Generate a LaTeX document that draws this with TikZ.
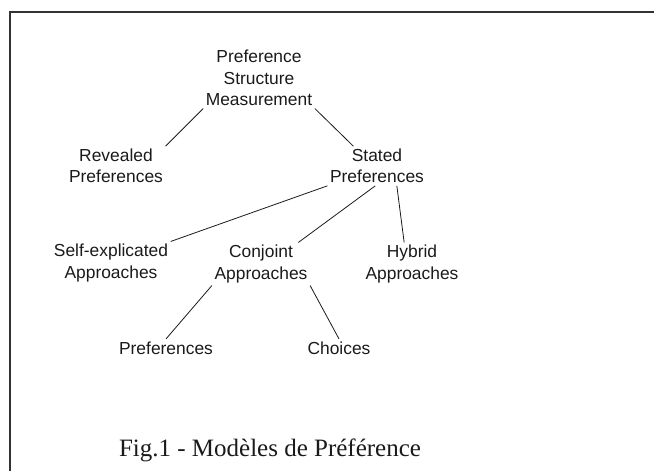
\documentclass[tikz,border=0pt]{standalone}
\usepackage{fontspec}
\setmainfont{Liberation Serif}
\setsansfont{Liberation Sans}
\usetikzlibrary{positioning}
\definecolor{FrameGray}{HTML}{333333}
\definecolor{InkBlack}{HTML}{1A1A1A}

\begin{document}
\begin{tikzpicture}[x=1pt, y=-1pt,
    term/.style={align=center, inner sep=2.5pt, text=InkBlack,
        font=\sffamily\fontsize{17.4}{21.5}\selectfont},
    link/.style={InkBlack, line width=0.8pt}]
    \useasboundingbox (0,0) rectangle (654,471);

    % Frame (open at right and bottom)
    \draw[FrameGray, line width=1.5pt] (10,471) -- (10,12) -- (654,12);

    % Tree of terms
    \node[term] (psm) at (259,78) {Preference\\Structure\\Measurement};
    \node[term] (revealed) at (116,166) {Revealed\\Preferences};
    \node[term] (stated) at (377,166) {Stated\\Preferences};
    \node[term] (selfexp) at (111,263) {Self-explicated\\Approaches};
    \node[term] (conjoint) at (261,264) {Conjoint\\Approaches};
    \node[term] (hybrid) at (412,264) {Hybrid\\Approaches};
    \node[term] (prefs) at (166,348) {Preferences};
    \node[term] (choices) at (339,348) {Choices};

    % Connectors
    \draw[link] (psm.south west) -- (revealed.north east);
    \draw[link] (psm.south east) -- (stated.140);
    \draw[link] (stated.south west) -- (selfexp.north east);
    \draw[link] (stated.265) -- (conjoint.30);
    \draw[link] (stated.-45) -- (hybrid.110);
    \draw[link] (conjoint.south west) -- (prefs.north);
    \draw[link] (conjoint.south east) -- (choices.north);

    % Caption
    \node[text=InkBlack, font=\fontsize{25}{30}\selectfont] (caption) at (270,450)
        {Fig.1 - Modèles de Préférence};
\end{tikzpicture}
\end{document}
